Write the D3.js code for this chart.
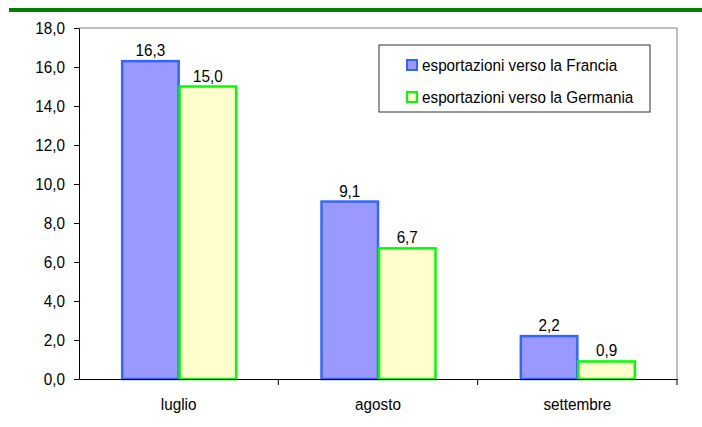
<!DOCTYPE html>
<html>
<head>
<meta charset="utf-8">
<script src="https://cdn.jsdelivr.net/npm/d3@7"></script>
<style>
  body { margin: 0; background: #fff; }
  svg { display: block; font-family: "Liberation Sans", Arial, sans-serif; }
</style>
</head>
<body>
<svg id="chart" width="702" height="427"></svg>
<script>
// Monthly export changes, by destination
const months = ["luglio", "agosto", "settembre"];
const francia = [16.3, 9.1, 2.2];
const germania = [15.0, 6.7, 0.9];
const seriesNames = ["esportazioni verso la Francia", "esportazioni verso la Germania"];
const yTicks = [0, 2, 4, 6, 8, 10, 12, 14, 16, 18];

const fills = ["#9999FF", "#FFFFCC"];
const strokes = ["#3366FF", "#00FF00"];
const FONT = "Liberation Sans, Arial, sans-serif";
const FS = 16.8;
const NARROW = 0.91; // slightly condensed lettering

const svg = d3.select("#chart");
const plotL = 79, plotR = 677, plotT = 28, plotB = 379;

const fmt = v => d3.format(".1f")(v).replace(".", ",");

// Header rule
svg.append("rect").attr("x", 9).attr("y", 8).attr("width", 693).attr("height", 4).attr("fill", "#008000");

const x = d3.scaleBand().domain(months).range([plotL, plotR]).paddingInner(0).paddingOuter(0);
const y = d3.scaleLinear().domain([0, 18]).range([plotB, plotT]);
const groupW = 115;
const xs = d3.scaleBand().domain([0, 1]).range([0, groupW]);

// Plot frame (top and right)
svg.append("path")
  .attr("d", `M${plotL},${plotT}H${plotR}V${plotB}`)
  .attr("fill", "none").attr("stroke", "#808080").attr("stroke-width", 1);

// Bars
const data = months.map((m, i) => ({ m, vals: [francia[i], germania[i]] }));
const groups = svg.append("g").selectAll("g").data(data).join("g")
  .attr("transform", d => `translate(${x(d.m) + (x.bandwidth() - groupW) / 2},0)`);

groups.selectAll("rect").data(d => d.vals.map((v, s) => ({ v, s }))).join("rect")
  .attr("x", d => xs(d.s) + 1)
  .attr("width", xs.bandwidth() - 1)
  .attr("y", d => y(d.v))
  .attr("height", d => y(0) - y(d.v))
  .attr("fill", d => fills[d.s])
  .attr("stroke", d => strokes[d.s])
  .attr("stroke-width", 2.5);

groups.selectAll("text").data(d => d.vals.map((v, s) => ({ v, s }))).join("text")
  .attr("x", d => xs(d.s) + xs.bandwidth() / 2 + 0.5)
  .attr("y", d => y(d.v) - 5)
  .attr("text-anchor", "middle")
  .attr("font-size", FS)
  .attr("fill", "#000")
  .text(d => fmt(d.v));

// Y axis
const yAxis = svg.append("g").attr("transform", `translate(${plotL},0)`)
  .call(d3.axisLeft(y).tickValues(yTicks).tickSize(5).tickSizeOuter(0).tickFormat(fmt));
yAxis.select(".domain").attr("stroke", "#000");
yAxis.selectAll(".tick line").attr("stroke", "#000");
yAxis.selectAll(".tick text").attr("font-size", FS).attr("fill", "#000")
  .attr("font-family", FONT).attr("x", -14).attr("dy", "0.34em");

// X axis
const xAxis = svg.append("g").attr("transform", `translate(0,${plotB})`)
  .call(d3.axisBottom(x).tickSize(0).tickSizeOuter(0));
xAxis.select(".domain").attr("stroke", "#000");
xAxis.selectAll(".tick text").attr("font-size", FS).attr("fill", "#000")
  .attr("font-family", FONT).attr("y", 31).attr("dy", null);
// Category separators
const seps = months.map(m => x(m) + x.bandwidth());
svg.append("g").selectAll("line").data(seps).join("line")
  .attr("x1", d => d).attr("x2", d => d)
  .attr("y1", plotB).attr("y2", plotB + 6)
  .attr("stroke", "#000");

// Legend
const lg = svg.append("g").attr("transform", "translate(379,45)");
lg.append("rect").attr("width", 271).attr("height", 67)
  .attr("fill", "#fff").attr("stroke", "#333");
seriesNames.forEach((name, i) => {
  const row = lg.append("g").attr("transform", `translate(0,${20 + i * 32})`);
  row.append("rect").attr("x", 28).attr("y", -5).attr("width", 10).attr("height", 10)
    .attr("fill", fills[i]).attr("stroke", strokes[i]).attr("stroke-width", 2);
  row.append("text").attr("x", 43).attr("y", 5.5).attr("font-size", FS).attr("fill", "#000").text(name);
});

// Condense all lettering horizontally
svg.selectAll("text").each(function () {
  const len = this.getComputedTextLength();
  d3.select(this).attr("textLength", len * NARROW).attr("lengthAdjust", "spacingAndGlyphs");
});
</script>
</body>
</html>
